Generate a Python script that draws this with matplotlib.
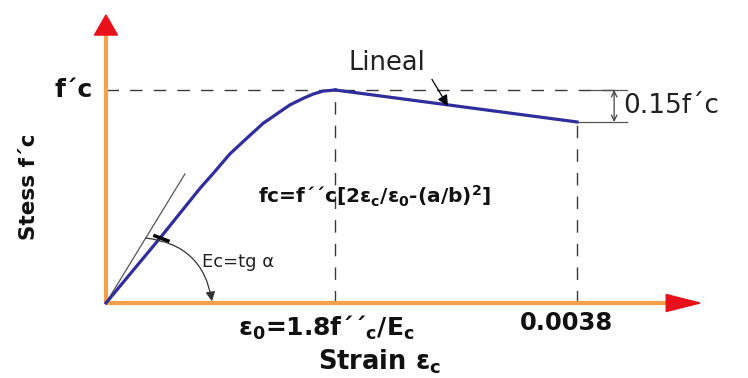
import matplotlib
matplotlib.use("Agg")
import matplotlib.pyplot as plt
from matplotlib.patches import Polygon

plt.rcParams['font.family'] = ['DejaVu Sans']
plt.rcParams['mathtext.fontset'] = 'custom'
plt.rcParams['mathtext.rm'] = 'DejaVu Sans:bold'
plt.rcParams['mathtext.default'] = 'rm'

# Stress-strain curve of concrete (stress as a fraction of f'c)
strain_rise = [0.0, 0.000436, 0.000758, 0.000866, 0.001000, 0.001135, 0.001269,
               0.001404, 0.001484, 0.001592, 0.001672, 0.001753, 0.00185]
stress_rise = [0.0, 0.305, 0.538, 0.609, 0.700, 0.773, 0.844,
               0.898, 0.930, 0.961, 0.981, 0.995, 1.0]
eps0 = 0.00185          # strain at peak stress
eps_ult = 0.0038        # ultimate strain
drop = 0.15             # linear softening down to 0.85 f'c
strain_fall = [eps0, eps_ult]
stress_fall = [1.0, 1.0 - drop]

AXIS = '#F7A04A'
ARROW = '#E8101A'
CURVE = '#2E2E9C'
DASH = '#3A3A3A'

fig = plt.figure(figsize=(7.48, 3.78), dpi=100)
ax = fig.add_axes([0, 0, 1, 1])
ax.set_xlim(-0.000855, 0.005180)
ax.set_ylim(-0.352, 1.4225)
ax.axis('off')

# axes with arrow heads
ax.plot([0, 0], [0, 1.258], color=AXIS, lw=3, solid_capstyle='butt', zorder=2)
ax.plot([0, 0.00455], [0, 0], color=AXIS, lw=3, solid_capstyle='butt', zorder=2)
ax.add_patch(Polygon([[-0.000093, 1.258], [0.000093, 1.258], [0, 1.352]],
                     closed=True, color=ARROW, zorder=3))
ax.add_patch(Polygon([[0.00452, -0.040], [0.00452, 0.040], [0.004792, 0]],
                     closed=True, color=ARROW, zorder=3))

# reference dashed lines
ax.plot([0, 0.0041], [1.0, 1.0], color=DASH, lw=1, dashes=(9, 8), zorder=1)
ax.plot([eps0, eps0], [0, 1.0], color=DASH, lw=1, dashes=(9, 8), zorder=1)
ax.plot([eps_ult, eps_ult], [0, 1.0 - drop], color=DASH, lw=1, dashes=(9, 8), zorder=1)

# curve
ax.plot(strain_rise, stress_rise, color=CURVE, lw=2.3, zorder=4,
        solid_joinstyle='round')
ax.plot(strain_fall, stress_fall, color=CURVE, lw=2.3, zorder=4)

# initial tangent (modulus Ec)
ax.plot([0, 0.000637], [0, 0.606], color='#555555', lw=0.9, zorder=3)
ax.plot([0.000395, 0.0005], [0.315, 0.292], color='black', lw=2.5, zorder=5)
ax.annotate('', xy=(0.000855, 0.008), xytext=(0.000321, 0.305),
            arrowprops=dict(arrowstyle='-|>', color='#333333', lw=0.9,
                            connectionstyle='arc3,rad=-0.38',
                            mutation_scale=14, shrinkA=0, shrinkB=0), zorder=5)
ax.text(0.000775, 0.192, 'Ec=tg α', fontsize=13, color='#222222',
        ha='left', va='center')

# softening branch label
ax.text(0.002267, 1.127, 'Lineal', fontsize=18.5, color='#222222',
        ha='center', va='center')
ax.annotate('', xy=(0.002759, 0.925), xytext=(0.00263, 1.05),
            arrowprops=dict(arrowstyle='-|>', color='black', lw=0.9,
                            mutation_scale=16, shrinkA=0, shrinkB=0), zorder=5)

# 0.15 f'c dimension
ax.plot([0.0039, 0.004204], [1.0, 1.0], color='#555555', lw=0.9)
ax.plot([eps_ult, 0.004204], [1.0 - drop, 1.0 - drop], color='#555555', lw=0.9)
ax.annotate('', xy=(0.0041, 1.0 - drop), xytext=(0.0041, 1.0),
            arrowprops=dict(arrowstyle='<->', color='#444444', lw=0.9,
                            mutation_scale=10, shrinkA=0, shrinkB=0))
ax.text(0.004171, 1.0 - drop / 2, '0.15f´c', fontsize=19, color='#222222',
        ha='left', va='center')

# labels
ax.text(-0.000105, 1.0, 'f´c', fontsize=18, fontweight='bold', ha='right',
        va='center', color='#111111')
ax.text(-0.000621, 0.545, 'Stess f´c', fontsize=15.5, fontweight='bold',
        rotation=90, ha='center', va='center', color='#111111')
ax.text(0.001775, -0.117, r'$ε_0$=1.8f´´$_c$/E$_c$', fontsize=18,
        fontweight='bold', ha='center', va='center', color='#111111')
ax.text(0.003719, -0.094, '0.0038', fontsize=17.5, fontweight='bold',
        ha='center', va='center', color='#111111')
ax.text(0.002211, -0.277, r'Strain $ε_c$', fontsize=18.5, fontweight='bold',
        ha='center', va='center', color='#111111')
ax.text(0.00217, 0.50, r'fc=f´´c[2ε$_c$/ε$_0$-(a/b)$^2$]', fontsize=14.5,
        fontweight='bold', ha='center', va='center', color='#111111')

fig.savefig('out.png', dpi=100)
